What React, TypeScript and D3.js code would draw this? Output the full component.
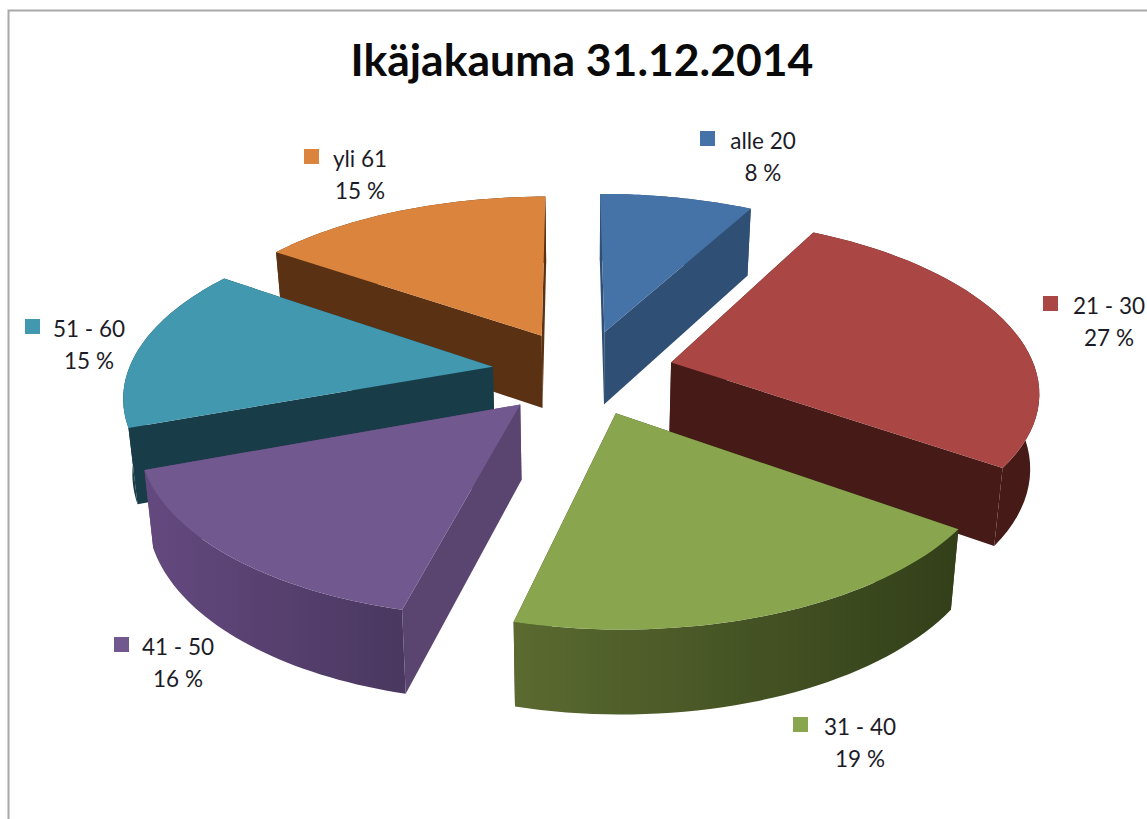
import React from "react";
import * as d3 from "d3";

const categories = ["alle 20", "21 - 30", "31 - 40", "41 - 50", "51 - 60", "yli 61"];
const shares = [7.98, 26.9, 19.1, 15.5, 15.2, 15.32];
const shareLabels = ["8 %", "27 %", "19 %", "16 %", "15 %", "15 %"];
const topColors = ["#4573a7", "#aa4643", "#89a54e", "#71588f", "#4198af", "#db843d"];
const cutColors = ["#2f4f75", "#451a17", "#38451c", "#5a4470", "#193c49", "#5a3213"];
const rimFrom = ["#2f4f75", "#451a17", "#5a6a30", "#64497f", "#193c49", "#5a3213"];
const rimTo = ["#2f4f75", "#451a17", "#323f19", "#4a3860", "#193c49", "#5a3213"];
const paintOrder = [5, 0, 4, 1, 3, 2];
const labelX = [763, 1109, 860, 178, 89, 360];
const labelY = [149, 314, 735, 655, 337, 167];
const swatchX = [700, 1043, 793, 114, 25, 304];
const swatchY = [131, 296, 717, 637, 319, 149];

const W = 1147, H = 819;
const CX = 583, CY = 372, AX = 365, BY = 170, K = 0.15, EXPLODE = 0.25, DEPTH = 74, ROTATION = -0.005;

function project(wx: number, wy: number, drop = 0): [number, number] {
  const s = 1 / (1 + K * wy);
  const lean = 1 - (0.02 * drop) / DEPTH;
  return [CX + AX * wx * s * lean, CY - BY * wy * s + drop * (0.35 + 0.65 * s)];
}

const line = d3.line();

export default function App() {
  const arcs = d3.pie<number>().sort(null).startAngle(ROTATION).endAngle(ROTATION + 2 * Math.PI)(shares);
  const data = arcs.map((a) => {
    const mid = (a.startAngle + a.endAngle) / 2;
    const ox = EXPLODE * Math.sin(mid), oy = EXPLODE * Math.cos(mid);
    const steps = d3.range(0, 41).map((i) => a.startAngle + ((a.endAngle - a.startAngle) * i) / 40);
    const world = steps.map((t) => [ox + Math.sin(t), oy + Math.cos(t)] as [number, number]);
    return { ox, oy, world };
  });

  const poly = (pts: [number, number][]) => line(pts)! + "Z";

  return (
    <svg width={W} height={H} style={{ position: "absolute", left: 0, top: 0 }} fontFamily="Lato, 'Open Sans', sans-serif">
      <defs>
        {categories.map((_, i) => {
          const xs = data[i].world.map((p) => project(p[0], p[1])[0]);
          return (
            <linearGradient key={i} id={`rim${i}`} gradientUnits="userSpaceOnUse" x1={d3.min(xs)} x2={d3.max(xs)} y1={0} y2={0}>
              <stop offset="0" stopColor={rimFrom[i]} />
              <stop offset="1" stopColor={rimTo[i]} />
            </linearGradient>
          );
        })}
      </defs>
      <rect width={W} height={H} fill="#fff" />
      <path d={`M${W},10.5H8.5V${H}`} fill="none" stroke="#a9a9a9" strokeWidth={2} />
      <text x={582} y={76} textAnchor="middle" fontSize={44.5} fontWeight={700} fill="#0a0a0a">Ikäjakauma 31.12.2014</text>

      {paintOrder.map((i) => {
        const { ox, oy, world } = data[i];
        const apexTop = project(ox, oy);
        const apexLow = project(ox, oy, DEPTH);
        const top = world.map((p) => project(p[0], p[1]));
        const low = world.map((p) => project(p[0], p[1], DEPTH));
        const first = top[0], last = top[top.length - 1];
        const firstLow = low[0], lastLow = low[low.length - 1];
        return (
          <g key={i}>
            <path d={poly([apexTop, first, firstLow, apexLow])} fill={cutColors[i]} />
            <path d={poly([apexTop, last, lastLow, apexLow])} fill={cutColors[i]} />
            <path d={poly([...top, ...low.slice().reverse()])} fill={`url(#rim${i})`} />
            <path d={poly([apexTop, ...top])} fill={topColors[i]} />
          </g>
        );
      })}

      {categories.map((c, i) => (
        <g key={c} fill="#1c1c28" fontSize={22.5}>
          <rect x={swatchX[i]} y={swatchY[i]} width={15} height={15} fill={topColors[i]} />
          <text x={labelX[i]} y={labelY[i]} textAnchor="middle">{c}</text>
          <text x={labelX[i]} y={labelY[i] + 32} textAnchor="middle">{shareLabels[i]}</text>
        </g>
      ))}
    </svg>
  );
}
